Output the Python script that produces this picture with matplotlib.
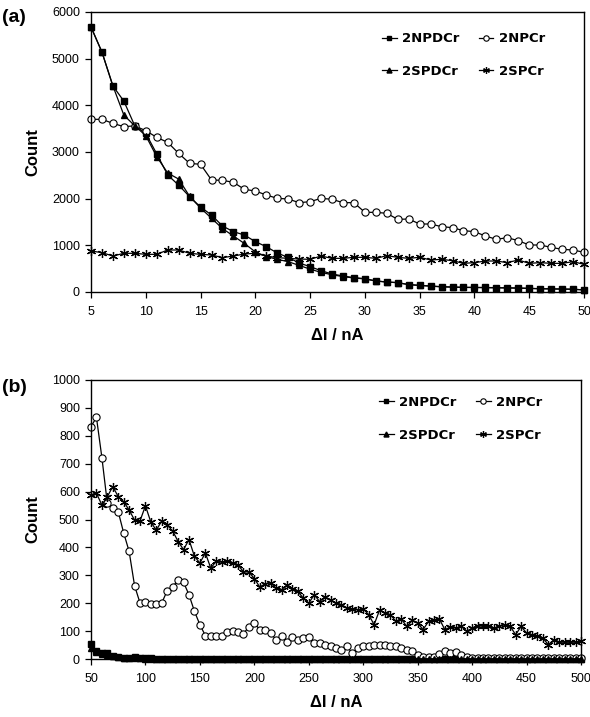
import numpy as np
import matplotlib
matplotlib.use("Agg")
import matplotlib.pyplot as plt

plt.rcParams['font.family'] = ['Liberation Sans', 'DejaVu Sans']

# ---- panel (a): current step 1 nA, 5-50 nA ----
di_a = list(range(5, 51))
npdcr_a = [5680, 5140, 4415, 4090, 3560, 3400, 2960, 2507, 2290, 2043, 1820, 1650,
           1414, 1293, 1221, 1079, 971, 836, 740, 621, 543, 457, 386, 343, 307, 286,
           236, 214, 200, 157, 143, 129, 114, 107, 100, 100, 97, 93, 90, 86, 79, 71,
           68, 64, 60, 45]
npcr_a = [3700, 3700, 3614, 3543, 3560, 3457, 3314, 3207, 2971, 2757, 2736, 2400,
          2393, 2350, 2200, 2164, 2079, 2007, 1993, 1914, 1936, 2007, 1986, 1914,
          1914, 1707, 1707, 1686, 1557, 1564, 1457, 1457, 1400, 1379, 1314, 1293,
          1200, 1129, 1164, 1100, 1007, 1007, 957, 914, 900, 850]
spdcr_a = [5680, 5140, 4415, 3790, 3560, 3350, 2900, 2550, 2420, 2050, 1800, 1580,
           1360, 1200, 1040, 860, 760, 700, 650, 570, 490, 420, 370, 330, 300, 280,
           236, 214, 200, 160, 140, 125, 110, 105, 98, 95, 92, 90, 86, 82, 76, 70,
           66, 62, 58, 45]
spcr_a = [879, 843, 771, 829, 829, 807, 807, 900, 900, 829, 807, 793, 736, 771, 814,
          829, 771, 736, 721, 707, 700, 771, 721, 721, 743, 743, 721, 778, 743, 721,
          743, 686, 700, 671, 614, 629, 664, 664, 629, 686, 614, 629, 614, 614, 650,
          593]

# ---- panel (b): current step 5 nA, 50-500 nA ----
di_b = list(range(50, 501, 5))
npdcr_b = [55, 30, 22, 20, 12, 8, 5, 4, 6, 3, 2, 2, 1, 1, 1, 1, 1, 1, 1, 1,
           1, 1, 1, 1, 1, 1, 1, 1, 1, 1, 1, 1, 1, 1, 1, 1, 1, 1, 1, 1,
           1, 1, 1, 1, 1, 1, 1, 1, 1, 1, 1, 1, 1, 1, 1, 1, 1, 1, 1, 1,
           1, 1, 1, 1, 1, 1, 1, 1, 1, 1, 1, 1, 1, 1, 1, 1, 1, 1, 1, 1,
           1, 1, 1, 1, 1, 1, 1, 1, 1, 1, 1]
npcr_b = [833, 866, 722, 558, 540, 528, 452, 386, 263, 201, 203, 198, 198, 201, 245,
          258, 284, 275, 230, 171, 123, 84, 81, 81, 81, 95, 99, 95, 91, 115, 129,
          105, 105, 93, 69, 84, 60, 79, 69, 75, 79, 56, 56, 50, 45, 39, 33, 45, 21,
          39, 48, 45, 50, 50, 50, 48, 45, 39, 33, 27, 15, 8, 6, 8, 18, 28, 22, 24,
          14, 8, 4, 3, 2, 2, 2, 2, 2, 2, 2, 2, 2, 2, 2, 2, 2, 2, 2, 2, 2, 2, 2]
spdcr_b = [40, 25, 18, 15, 10, 6, 4, 3, 3, 2, 1, 1, 1, 1, 1, 1, 1, 1, 1, 1,
           1, 1, 1, 1, 1, 1, 1, 1, 1, 1, 1, 1, 1, 1, 1, 1, 1, 1, 1, 1,
           1, 1, 1, 1, 1, 1, 1, 1, 1, 1, 1, 1, 1, 1, 1, 1, 1, 1, 1, 1,
           1, 1, 1, 1, 1, 1, 1, 1, 1, 1, 1, 1, 1, 1, 1, 1, 1, 1, 1, 1,
           1, 1, 1, 1, 1, 1, 1, 1, 1, 1, 1]
spcr_b = [588, 594, 552, 582, 618, 582, 564, 534, 498, 495, 549, 490, 462, 495, 480,
          459, 421, 392, 428, 368, 344, 380, 326, 350, 347, 350, 344, 338, 312, 312,
          288, 258, 270, 272, 254, 248, 266, 252, 242, 218, 200, 230, 206, 224, 210,
          200, 195, 183, 179, 177, 180, 159, 123, 175, 165, 159, 135, 143, 117, 138,
          129, 105, 135, 141, 143, 105, 115, 111, 117, 99, 111, 120, 117, 117, 111,
          117, 123, 117, 87, 117, 93, 87, 84, 75, 51, 69, 60, 60, 60, 60, 63]

fig = plt.figure(figsize=(5.9, 7.17), dpi=100)
ax_a = fig.add_axes([91 / 590, 1 - 292 / 717, 493 / 590, 280 / 717])
ax_b = fig.add_axes([91 / 590, 1 - 659 / 717, 490 / 590, 279 / 717])

star = (6, 2, 0)


def draw(ax, x, sq, circ, tri, st):
    kw = dict(color='black', lw=0.9, clip_on=False)
    h1, = ax.plot(x, sq, marker='s', ms=4.8, mfc='black', mec='black', **kw)
    h2, = ax.plot(x, circ, marker='o', ms=5.2, mfc='white', mec='black', mew=0.8, **kw)
    h3, = ax.plot(x, tri, marker='^', ms=4.8, mfc='black', mec='black', **kw)
    h4, = ax.plot(x, st, marker=star, ms=6.5, mfc='black', mec='black', mew=0.9, **kw)
    return {'2NPDCr': h1, '2NPCr': h2, '2SPDCr': h3, '2SPCr': h4}


def style(ax, xticks, yticks):
    for s in ax.spines.values():
        s.set_linewidth(1.0)
        s.set_color('black')
    ax.set_xticks(xticks)
    ax.set_yticks(yticks)
    ax.tick_params(direction='out', length=4, width=0.9, labelsize=9, colors='black')
    ax.tick_params(axis='x', pad=6)
    ax.tick_params(axis='y', pad=4)
    ax.set_ylabel('Count', fontsize=12, fontweight='bold', labelpad=8)
    ax.set_xlabel('ΔI / nA', fontsize=12, fontweight='bold', labelpad=7)


handles_a = draw(ax_a, di_a, npdcr_a, npcr_a, spdcr_a, spcr_a)
ax_a.set_xlim(5, 50)
ax_a.set_ylim(0, 6000)
style(ax_a, range(5, 51, 5), range(0, 6001, 1000))

handles_b = draw(ax_b, di_b, npdcr_b, npcr_b, spdcr_b, spcr_b)
ax_b.set_xlim(50, 500)
ax_b.set_ylim(0, 1000)
style(ax_b, range(50, 501, 50), range(0, 1001, 100))

# legend is filled column by column: reorder so rows read 2NPDCr/2NPCr, 2SPDCr/2SPCr
legend_order = ['2NPDCr', '2SPDCr', '2NPCr', '2SPCr']
for ax, hs, top in ((ax_a, handles_a, 0.97), (ax_b, handles_b, 0.985)):
    ax.legend([hs[n] for n in legend_order], legend_order, ncol=2,
              loc='upper right', frameon=False,
              prop={'family': 'DejaVu Sans', 'weight': 'bold', 'size': 9.5},
              handlelength=1.1, handletextpad=0.4, columnspacing=1.5,
              labelspacing=1.5, markerscale=0.75, bbox_to_anchor=(0.945, top))

fig.text(2 / 590, 1 - 18 / 717, '(a)', fontsize=14, fontweight='bold', va='center')
fig.text(2 / 590, 1 - 388 / 717, '(b)', fontsize=14, fontweight='bold', va='center')

fig.savefig('out.png', dpi=100, facecolor='white')
